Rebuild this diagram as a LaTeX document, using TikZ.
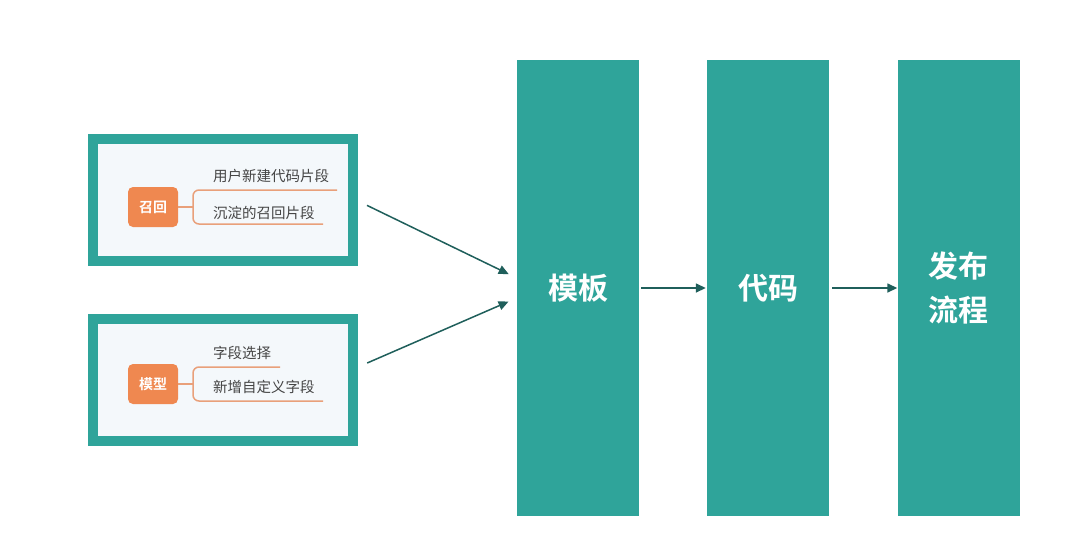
\documentclass[tikz,border=0pt]{standalone}
\usepackage{fontspec}
\setmainfont{Noto Sans CJK SC}
\newfontfamily\cjkb{Noto Sans CJK SC Bold}
\usetikzlibrary{calc,arrows.meta}
\definecolor{teal1}{HTML}{2FA49A}
\definecolor{darkteal}{HTML}{1F5F5B}
\definecolor{orng}{HTML}{EF8850}
\definecolor{brln}{HTML}{E9A07A}
\definecolor{pale}{HTML}{F4F8FB}
\definecolor{txt}{HTML}{454545}
\begin{document}
\begin{tikzpicture}[x=1pt,y=-1pt,
  bar/.style={fill=teal1, draw=none, minimum width=122pt, minimum height=456pt, inner sep=0pt,
    text=white, font=\cjkb\fontsize{30}{44}\selectfont, align=center},
  panel/.style={draw=teal1, line width=10pt, fill=pale, minimum width=260pt, minimum height=122pt, inner sep=0pt},
  tag/.style={fill=orng, rounded corners=5pt, minimum width=50pt, minimum height=40pt, inner sep=0pt,
    text=white, font=\cjkb\fontsize{14}{16}\selectfont},
  leaf/.style={anchor=base west, text=txt, font=\fontsize{14.5}{16}\selectfont, inner sep=0pt},
  brk/.style={draw=brln, line width=1.5pt, rounded corners=6pt},
  arr/.style={draw=darkteal, line width=1.5pt, -{Triangle[length=10pt,width=9pt]}}
]
\useasboundingbox (0,0) rectangle (1080,547);
\fill[white] (0,0) rectangle (1080,547);

% bars
\node[bar] (tpl) at (578,288) {模板};
\node[bar] (code) at (768,288) {代码};
\node[bar] (pub) at (958.5,288) {发布\\流程};

% panels
\node[panel] (p1) at (223,200) {};
\node[panel] (p2) at (223,380) {};

% panel 1
\node[tag] (t1) at (153,207) {召回};
\coordinate (b1) at (193,207);
\coordinate (e1a) at (337,190);
\coordinate (e1b) at (323,224);
\draw[brk] (t1.east) -- (b1);
\draw[brk] (e1a) -- (193,190) -- (193,224) -- (e1b);
\node[leaf] (l1a) at (213,181) {用户新建代码片段};
\node[leaf] (l1b) at (213,218) {沉淀的召回片段};

% panel 2
\node[tag] (t2) at (153,384) {模型};
\coordinate (b2) at (193,384);
\coordinate (e2a) at (280,367);
\coordinate (e2b) at (323,401);
\draw[brk] (t2.east) -- (b2);
\draw[brk] (e2a) -- (193,367) -- (193,401) -- (e2b);
\node[leaf] (l2a) at (213,358) {字段选择};
\node[leaf] (l2b) at (213,392) {新增自定义字段};

% arrows
\draw[arr, shorten <=10pt, shorten >=9pt] ($(p1.east)+(0,1)$) -- ($(tpl.west)+(0,-10)$);
\draw[arr, shorten <=10pt, shorten >=9pt] ($(p2.east)+(0,-13)$) -- ($(tpl.west)+(0,10)$);
\draw[arr, shorten <=2pt, shorten >=1pt] (tpl.east) -- (code.west);
\draw[arr, shorten <=3pt, shorten >=0pt] (code.east) -- (pub.west);
\end{tikzpicture}
\end{document}
